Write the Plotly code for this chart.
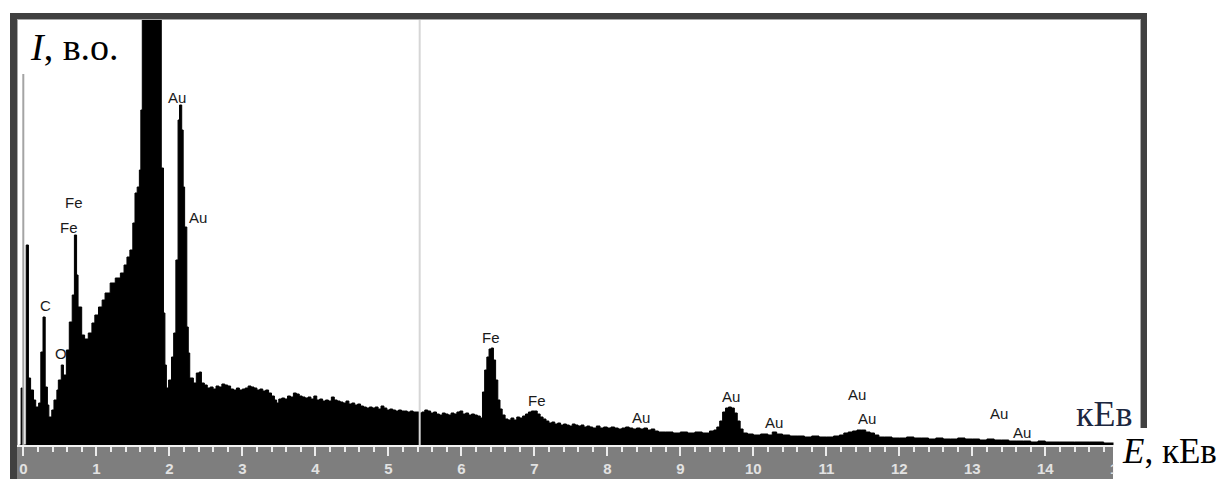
import plotly.graph_objects as go

# EDS spectrum: energy (keV) and intensity (arb. units), step-wise channels
energy = [
    -0.05, -0.03, -0.01, 0.04, 0.07, 0.10, 0.14, 0.17, 0.21, 0.24, 0.27, 0.30,
    0.33, 0.35, 0.39, 0.42, 0.46, 0.48, 0.52, 0.55, 0.59, 0.63, 0.67, 0.70,
    0.73, 0.75, 0.80, 0.84, 0.89, 0.94, 0.98, 1.03, 1.08, 1.12, 1.19, 1.26,
    1.33, 1.38, 1.42, 1.46, 1.50, 1.53, 1.56, 1.59, 1.61, 1.63, 1.66, 1.70,
    1.78, 1.84, 1.89, 1.92, 1.94, 1.96, 1.99, 2.03, 2.06, 2.09, 2.12, 2.14,
    2.17, 2.19, 2.21, 2.24, 2.26, 2.28, 2.33, 2.37, 2.41,
    2.44, 2.48, 2.52, 2.56, 2.60, 2.64, 2.68, 2.72, 2.76, 2.80, 2.84, 2.88,
    2.92, 2.96, 3.00, 3.04, 3.08, 3.12, 3.16, 3.20, 3.24, 3.28, 3.32, 3.36,
    3.40, 3.44, 3.47, 3.50, 3.54, 3.58, 3.62, 3.66, 3.70, 3.74, 3.78, 3.82,
    3.86, 3.90, 3.94, 3.98, 4.02, 4.06, 4.10, 4.14, 4.18, 4.22, 4.26, 4.30,
    4.34, 4.38, 4.42, 4.46, 4.50, 4.54, 4.58, 4.62, 4.66, 4.70, 4.74, 4.78,
    4.82, 4.86, 4.90, 4.94, 4.98, 5.02, 5.06, 5.10, 5.14, 5.18, 5.22, 5.26,
    5.30, 5.34, 5.38, 5.42, 5.46, 5.50, 5.54, 5.58, 5.62, 5.66, 5.70, 5.74,
    5.78, 5.82, 5.86, 5.90, 5.94, 5.98, 6.02, 6.06, 6.10, 6.14, 6.18, 6.22,
    6.26, 6.29, 6.32, 6.35, 6.38, 6.41, 6.44, 6.47, 6.50, 6.53, 6.56, 6.60,
    6.64, 6.68, 6.72, 6.76, 6.80, 6.84, 6.88, 6.92, 6.96, 7.00, 7.04, 7.08,
    7.12, 7.16, 7.20, 7.24, 7.28, 7.32, 7.36, 7.40, 7.44, 7.48, 7.52, 7.56,
    7.60, 7.64, 7.68, 7.72, 7.76, 7.80, 7.85, 7.90, 7.95, 8.00, 8.05, 8.10,
    8.15, 8.20, 8.25, 8.30, 8.35, 8.40, 8.45, 8.50, 8.55, 8.60, 8.65, 8.70,
    8.80, 8.90, 9.00, 9.10, 9.20, 9.30, 9.40, 9.46, 9.50, 9.54, 9.58, 9.62,
    9.66, 9.70, 9.74, 9.78, 9.82, 9.86, 9.92, 10.00, 10.10, 10.20, 10.26, 10.32,
    10.40, 10.50, 10.60, 10.70, 10.80, 10.90, 11.00, 11.10, 11.18, 11.24, 11.30, 11.36,
    11.42, 11.48, 11.54, 11.60, 11.66, 11.72, 11.80, 11.90, 12.00, 12.10, 12.20, 12.30,
    12.40, 12.50, 12.60, 12.70, 12.80, 12.90, 13.00, 13.10, 13.20, 13.30, 13.40, 13.50,
    13.60, 13.70, 13.80, 13.90, 14.00, 14.20, 14.40, 14.60, 14.80, 15.00, 15.20, 15.30,
]
intensity = [
    0, 57, 0, 200, 67, 55, 45, 38, 42, 93, 128, 58,
    40, 28, 35, 45, 55, 65, 80, 70, 95, 123, 150, 210,
    170, 138, 110, 106, 112, 122, 130, 138, 145, 152, 162, 167,
    172, 180, 188, 195, 222, 252, 258, 275, 335, 460, 700, 1000,
    800, 500, 277, 132, 80, 57, 65, 88, 112, 185, 325, 340,
    315, 258, 218, 118, 92, 67, 62, 72, 73,
    62, 60, 57, 58, 56, 59, 58, 61, 60, 59, 56, 55,
    57, 55, 56, 57, 59, 58, 57, 55, 56, 54, 55, 52,
    49, 45, 42, 46, 47, 46, 49, 48, 52, 51, 49, 48,
    47, 48, 46, 49, 45, 46, 44, 45, 44, 48, 45, 44,
    43, 42, 44, 41, 42, 40, 41, 39, 38, 37, 38, 37,
    38, 36, 39, 37, 35, 36, 35, 34, 35, 34, 34, 33,
    34, 33, 33, 32, 33, 35, 34, 32, 33, 31, 30, 32,
    31, 30, 32, 31, 33, 34, 31, 32, 30, 31, 30, 29,
    27, 53, 75, 88, 96, 97, 85, 65, 45, 36, 30, 26,
    25, 27, 25, 28, 27, 29, 31, 33, 34, 34, 31, 28,
    26, 24, 22, 23, 21, 22, 20, 21, 20, 19, 21, 20,
    19, 20, 18, 19, 18, 17, 19, 17, 18, 17, 18, 17,
    16, 17, 18, 17, 16, 17, 16, 17, 15, 16, 14, 13,
    13, 12, 13, 12, 13, 12, 14, 15, 18, 24, 33, 37,
    38, 37, 32, 24, 16, 12, 11, 10, 11, 10, 13, 11,
    10, 9, 9, 8, 9, 8, 8, 9, 10, 12, 13, 14,
    15, 15, 13, 12, 10, 8, 8, 7, 7, 8, 7, 7,
    6, 7, 6, 6, 7, 6, 6, 5, 6, 5, 5, 4,
    4, 4, 3, 4, 3, 3, 3, 3, 2, 3, 3, 3,
]

# Peak labels: element, energy (keV), label height (arb. units)
peak_names = ["C", "O", "Fe", "Fe", "Au", "Au", "Fe", "Fe",
              "Au", "Au", "Au", "Au", "Au", "Au", "Au"]
peak_energy = [0.30, 0.52, 0.69, 0.63, 2.11, 2.39, 6.41, 7.04,
               8.46, 9.69, 10.28, 11.42, 11.56, 13.37, 13.68]
peak_height = [140, 92, 243, 218, 348, 228, 108, 45,
               28, 49, 23, 51, 27, 32, 13]

x_ticks = list(range(0, 16))
cursor_energy = 5.43

W, H = 1226, 479
L, R, T, B = 17, 1140, 20, 445


def px(X):
    return (X - L) / (R - L)


def py(Y):
    return (B - Y) / (B - T)


fig = go.Figure()
fig.add_trace(go.Scatter(
    x=energy, y=intensity, mode="lines", line_shape="hv",
    line=dict(color="black", width=1), fill="tozeroy", fillcolor="black",
    hoverinfo="skip", showlegend=False,
))

shapes = []
# grey scale bar under the axis
shapes.append(dict(type="rect", xref="paper", yref="paper", layer="below",
                   x0=px(17), x1=px(1113), y0=py(480), y1=py(445),
                   fillcolor="#7e7e7e", line_width=0))
# dark window frame
frame = "#404040"
shapes.append(dict(type="rect", xref="paper", yref="paper", x0=px(10), x1=px(17),
                   y0=py(480), y1=py(13), fillcolor=frame, line_width=0))
shapes.append(dict(type="rect", xref="paper", yref="paper", x0=px(10), x1=px(1147),
                   y0=py(19), y1=py(13), fillcolor=frame, line_width=0))
shapes.append(dict(type="rect", xref="paper", yref="paper", x0=px(1141), x1=px(1147),
                   y0=py(428), y1=py(13), fillcolor=frame, line_width=0))
# thin light bevel inside the frame
bevel = "#a8a8a8"
shapes.append(dict(type="line", xref="paper", yref="paper", x0=px(17.5), x1=px(17.5),
                   y0=py(445), y1=py(19), line=dict(color=bevel, width=1)))
shapes.append(dict(type="line", xref="paper", yref="paper", x0=px(17), x1=px(1141),
                   y0=py(19.5), y1=py(19.5), line=dict(color=bevel, width=1)))
shapes.append(dict(type="line", xref="paper", yref="paper", x0=px(1140.5), x1=px(1140.5),
                   y0=py(428), y1=py(19), line=dict(color=bevel, width=1)))
# zero-energy marker and cursor line
shapes.append(dict(type="line", xref="x", yref="paper", x0=0.0, x1=0.0,
                   y0=0, y1=py(74), line=dict(color="#a4a4a4", width=2)))
shapes.append(dict(type="line", xref="x", yref="paper", x0=cursor_energy, x1=cursor_energy,
                   y0=0, y1=1, line=dict(color="#d6d6d6", width=2)))

annotations = []
for name, e, h in zip(peak_names, peak_energy, peak_height):
    annotations.append(dict(x=e, y=h, xref="x", yref="y", text=name, showarrow=False,
                            xanchor="center", yanchor="middle",
                            font=dict(family="Liberation Sans, Arial", size=15,
                                      color="#1a1a1a")))

annotations.append(dict(x=px(28), y=py(47), xref="paper", yref="paper",
                        text="<i>I</i>, в.о.", showarrow=False,
                        xanchor="left", yanchor="middle",
                        font=dict(family="Liberation Serif, Times New Roman", size=38,
                                  color="black")))
annotations.append(dict(x=px(1104), y=py(414), xref="paper", yref="paper",
                        text="кЕв", showarrow=False, xanchor="center", yanchor="middle",
                        font=dict(family="Liberation Serif, Times New Roman", size=36,
                                  color="#1c2740")))
# white label panel in the lower right corner, then the axis title on it
annotations.append(dict(x=px(1113), y=py(428), xref="paper", yref="paper",
                        text="&nbsp;", showarrow=False, xanchor="left",
                        yanchor="top", width=113, height=51, bgcolor="white",
                        borderpad=0, font=dict(size=10)))
annotations.append(dict(x=px(1120), y=py(451), xref="paper", yref="paper",
                        text="<i>E</i>, кЕв", showarrow=False, xanchor="left",
                        yanchor="middle",
                        font=dict(family="Liberation Serif, Times New Roman", size=35,
                                  color="black")))

fig.update_layout(
    width=W, height=H,
    margin=dict(l=L, r=W - R, t=T, b=H - B, pad=0, autoexpand=False),
    paper_bgcolor="white", plot_bgcolor="white",
    shapes=shapes, annotations=annotations,
    xaxis=dict(range=[(L - 23.3) / 73, (R - 23.3) / 73], tickvals=x_ticks,
               automargin=False,
               ticks="outside", ticklen=9, tickwidth=2, tickcolor="#ececec",
               minor=dict(dtick=0.2, ticks="outside", ticklen=5, tickwidth=2,
                          tickcolor="#ececec", showgrid=False),
               showgrid=False, zeroline=False, showline=True, linecolor="#f2f2f2",
               linewidth=2, ticklabelstandoff=0,
               tickfont=dict(family="Liberation Sans, Arial", size=15, color="#e2e2e2",
                             weight="bold")),
    yaxis=dict(range=[0, 425], visible=False, showgrid=False, zeroline=False,
               automargin=False),
)

fig.write_html("out.html")
